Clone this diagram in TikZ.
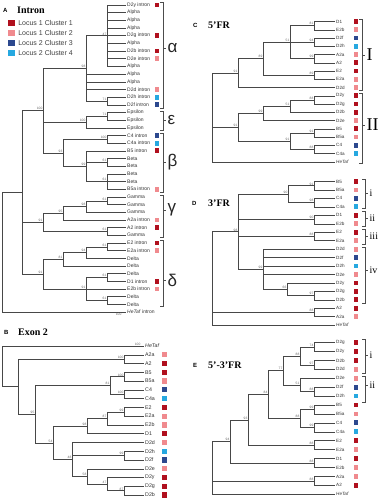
\documentclass[tikz,border=0pt]{standalone}
\usepackage{fontspec}
\setmainfont{Liberation Sans}
\newfontfamily\tms{Liberation Serif}
\usetikzlibrary{positioning}
\definecolor{cr}{RGB}{176,16,30}
\definecolor{cp}{RGB}{240,138,142}
\definecolor{cd}{RGB}{44,72,142}
\definecolor{cl}{RGB}{38,168,224}

\begin{document}
\begin{tikzpicture}[x=1pt, y=-1pt,
    every edge/.style={draw=black!72, line width=.5pt, to path={|- (\tikztotarget)}},
    lab/.style={anchor=west, inner sep=1pt, font=\fontsize{5}{5}\selectfont, text=black!80},
    labb/.style={lab, font=\fontsize{5.3}{5.3}\selectfont},
    labs/.style={lab, font=\fontsize{4.6}{5}\selectfont},
    sq/.style={fill=#1, minimum size=4.8pt, inner sep=0pt},
    key/.style={fill=#1, minimum size=6.8pt, inner sep=0pt},
    keytxt/.style={anchor=west, font=\fontsize{7}{8}\selectfont, text=black!75, inner sep=0pt},
    bs/.style={anchor=south east, inner sep=.4pt, font=\fontsize{3.3}{3.3}\selectfont, text=black!60},
    bk/.style={draw=black!70, line width=.5pt},
    grk/.style={anchor=west, inner sep=1.5pt, font=\fontsize{17}{17}\selectfont, text=black!85},
    romb/.style={anchor=west, inner sep=1.5pt, font=\tms\fontsize{18}{18}\selectfont},
    rom/.style={anchor=west, inner sep=1.5pt, font=\tms\fontsize{10}{10}\selectfont},
    ttl/.style={anchor=west, inner sep=0pt, font=\tms\bfseries\fontsize{10}{10}\selectfont},
    pl/.style={anchor=west, inner sep=0pt, font=\bfseries\fontsize{6}{6}\selectfont}]

\path[use as bounding box, fill=white] (0,0) rectangle (381,499);

% ---------------- A : intron ----------------
\node[pl] (pA) at (3,10) {A};
\node[ttl] (tA) at (17,10) {Intron};
\node[key=cr] (k1) at (11.5,23) {};
\node[key=cp] (k2) at (11.5,33) {};
\node[key=cd] (k3) at (11.5,43) {};
\node[key=cl] (k4) at (11.5,53) {};
\node[keytxt, right=3pt of k1] (l1) {Locus 1 Cluster 1};
\node[keytxt, right=3pt of k2] (l2) {Locus 1 Cluster 2};
\node[keytxt, right=3pt of k3] (l3) {Locus 2 Cluster 3};
\node[keytxt, right=3pt of k4] (l4) {Locus 2 Cluster 4};

\foreach \t/\c [count=\i] in {D2y intron/cr, Alpha/none, Alpha/none, Alpha/none,
    D2g intron/cr, Alpha/none, D2b intron/cr, D2e intron/cp, Alpha/none, Alpha/none,
    Alpha/none, D2d intron/cp, D2h intron/cl, D2f intron/cd, Epsilon/none, Epsilon/none,
    Epsilon/none, C4 intron/cd, C4a intron/cl, B5 intron/cr, Beta/none, Beta/none,
    Beta/none, Beta/none, B5a intron/cp, Gamma/none, Gamma/none, Gamma/none,
    A2a intron/cp, A2 intron/cr, Gamma/none, E2 intron/cr, E2a intron/cp, Delta/none,
    Delta/none, Delta/none, D1 intron/cr, E2b intron/cp, Delta/none, Delta/none,
    \textit{HeTaf} intron/none}{
  \pgfmathsetmacro\y{5+(\i-1)*7.675}
  \node[lab] (a\i) at (126,\y) {\t};
  \node[sq=\c] (qa\i) at (157,\y) {};
}

\coordinate (aal1) at (107,35.7);
\coordinate (aal2) at (107,101);
\coordinate (aal) at (86,68.3);
\coordinate (aep1) at (107,116.3);
\coordinate (aep) at (86,122.1);
\coordinate (abe1) at (107,139.3);
\coordinate (abe2) at (107,162.4);
\coordinate (abe3) at (107,181.6);
\coordinate (abe4) at (86,166.2);
\coordinate (abe) at (63,152.8);
\coordinate (aabe) at (43,110.5);
\coordinate (aga1) at (107,200.8);
\coordinate (aga3) at (86,206.5);
\coordinate (aga2) at (63,213.2);
\coordinate (aga4) at (107,231.5);
\coordinate (aga) at (43,222.3);
\coordinate (ade1) at (107,246.8);
\coordinate (ade3) at (86,252.6);
\coordinate (ade2) at (63,259.3);
\coordinate (ade4) at (107,277.6);
\coordinate (ade5) at (107,300.6);
\coordinate (ade6) at (86,289.1);
\coordinate (ade) at (43,274.2);
\coordinate (ain) at (22,192.4);
\coordinate (art) at (2,252.2);

\foreach \i in {1,...,9} \path (aal1) edge (a\i);
\path (aal2) edge (a13) edge (a14);
\path (aal) edge (aal1) edge (a10) edge (a11) edge (a12) edge (aal2);
\path (aep1) edge (a15) edge (a16);
\path (aep) edge (aep1) edge (a17);
\path (abe1) edge (a18) edge (a19);
\path (abe2) edge (a21) edge (a22);
\path (abe3) edge (a23) edge (a24) edge (a25);
\path (abe4) edge (a20) edge (abe2) edge (abe3);
\path (abe) edge (abe1) edge (abe4);
\path (aabe) edge (aal) edge (aep) edge (abe);
\path (aga1) edge (a26) edge (a27);
\path (aga3) edge (aga1) edge (a28);
\path (aga2) edge (aga3) edge (a29);
\path (aga4) edge (a30) edge (a31);
\path (aga) edge (aga2) edge (aga4);
\path (ade1) edge (a32) edge (a33);
\path (ade3) edge (ade1) edge (a34);
\path (ade2) edge (ade3) edge (a35);
\path (ade4) edge (a36) edge (a37);
\path (ade5) edge (a39) edge (a40);
\path (ade6) edge (ade4) edge (a38) edge (ade5);
\path (ade) edge (ade2) edge (ade6);
\path (ain) edge (aabe) edge (aga) edge (ade);
\path (art) edge (ain) edge (a41);

\foreach \n/\v in {aal1/47, aal/98, aal2/71, aep1/71, aep/100, aabe/100, abe1/100,
    abe/93, abe4/99, abe2/61, abe3/61, aga1/61, aga3/98, aga2/95, aga4/61, aga/91,
    ade1/61, ade3/94, ade2/81, ade4/61, ade6/91, ade5/61, ade/91}
  \node[bs] (s\n) at (\n) {\v};
\node[bs, anchor=north east] (sa41) at (122,312.5) {100};

% brackets of the families
\draw[bk] (160,2.5) -- (163,2.5) -- (163,108) -- (160,108);
\draw[bk] (160,111) -- (163,111) -- (163,130) -- (160,130);
\draw[bk] (160,133) -- (163,133) -- (163,192) -- (160,192);
\draw[bk] (160,195) -- (163,195) -- (163,237) -- (160,237);
\draw[bk] (160,240) -- (163,240) -- (163,306) -- (160,306);
\node[grk] (gal) at (166,48) {α};
\node[grk] (gep) at (166,120) {ε};
\node[grk] (gbe) at (166,162) {β};
\node[grk] (gga) at (166,210) {γ};
\node[grk] (gde) at (166,280) {δ};
\foreach \g in {gal,gep,gbe,gga,gde} \draw[bk] (163,0 |- \g) -- (\g.west);

% ---------------- B : exon 2 ----------------
\node[pl] (pB) at (4,332) {B};
\node[ttl] (tB) at (18,332) {Exon 2};

\foreach \t/\c [count=\i] in {\textit{HeTaf}/none, A2a/cp, A2/cr, B5/cr, B5a/cp,
    C4/cd, C4a/cl, E2/cr, E2a/cp, E2b/cp, D1/cr, D2d/cp, D2h/cl, D2f/cd, D2e/cp,
    D2y/cr, D2g/cr, D2b/cr}{
  \pgfmathsetmacro\y{346+(\i-1)*8.77}
  \node[labb] (b\i) at (144,\y) {\t};
  \node[sq=\c, minimum size=5.2pt] (qb\i) at (164.5,\y) {};
}

\coordinate (ba2) at (124,359.2);
\coordinate (bb5) at (124,376.7);
\coordinate (bc4) at (124,394.3);
\coordinate (bbc) at (110,385.5);
\coordinate (be2) at (124,411.8);
\coordinate (be3) at (107,418.4);
\coordinate (be) at (87,426.1);
\coordinate (bd1) at (124,455.6);
\coordinate (bd2) at (124,490.7);
\coordinate (bd3) at (107,484.2);
\coordinate (bd4) at (87,476.5);
\coordinate (bd) at (72,459.5);
\coordinate (bed) at (53,442.8);
\coordinate (bx) at (35,414.2);
\coordinate (bin) at (18,386.7);
\coordinate (brt) at (2,366.4);

\path (ba2) edge (b2) edge (b3);
\path (bb5) edge (b4) edge (b5);
\path (bc4) edge (b6) edge (b7);
\path (bbc) edge (bb5) edge (bc4);
\path (be2) edge (b8) edge (b9);
\path (be3) edge (be2) edge (b10);
\path (be) edge (be3) edge (b11);
\path (bd1) edge (b13) edge (b14);
\path (bd2) edge (b17) edge (b18);
\path (bd3) edge (b16) edge (bd2);
\path (bd4) edge (b15) edge (bd3);
\path (bd) edge (b12) edge (bd1) edge (bd4);
\path (bed) edge (be) edge (bd);
\path (bx) edge (bbc) edge (bed);
\path (bin) edge (ba2) edge (bx);
\path (brt) edge (bin) edge (b1);

\foreach \n/\v in {ba2/100, bb5/100, bc4/100, bbc/81, be2/99, be3/87, be/98, bd1/99,
    bd2/87, bd3/47, bd4/58, bd/48, bed/54, bx/95}
  \node[bs] (s\n) at (\n) {\v};
\node[bs] (sb1) at (141,346) {100};

% ---------------- C : 5'FR ----------------
\node[pl] (pC) at (193,25) {C};
\node[ttl] (tC) at (208,25) {5’FR};

\foreach \t/\c [count=\i] in {D1/cr, E2b/cp, D2f/cd, D2h/cl, A2a/cp, A2/cr, E2/cr,
    E2a/cp, D2d/cp, D2y/cr, D2g/cr, D2b/cr, D2e/cp, B5/cr, B5a/cp, C4/cd, C4a/cl,
    \textit{HeTaf}/none}{
  \pgfmathsetmacro\y{21.5+(\i-1)*8.25}
  \node[labs] (c\i) at (335,\y) {\t};
  \node[sq=\c] (qc\i) at (356,\y) {};
}

\coordinate (cA) at (314,25.6);
\coordinate (cB) at (314,42.1);
\coordinate (cC) at (314,58.6);
\coordinate (cD) at (290,42.1);
\coordinate (cE) at (314,75.1);
\coordinate (cF) at (263,58.6);
\coordinate (cG) at (238,73.1);
\coordinate (cH) at (314,99.9);
\coordinate (cI) at (290,106.1);
\coordinate (cJ) at (263,113.3);
\coordinate (cK) at (314,132.9);
\coordinate (cL) at (314,149.4);
\coordinate (cM) at (290,141.1);
\coordinate (cN) at (238,127.2);
\coordinate (cR) at (212,117.4);

\path (cA) edge (c1) edge (c2);
\path (cB) edge (c3) edge (c4);
\path (cC) edge (c5) edge (c6);
\path (cD) edge (cA) edge (cB) edge (cC);
\path (cE) edge (c7) edge (c8);
\path (cF) edge (cD) edge (cE);
\path (cG) edge (cF) edge (c9);
\path (cH) edge (c10) edge (c11);
\path (cI) edge (cH) edge (c12);
\path (cJ) edge (cI) edge (c13);
\path (cK) edge (c14) edge (c15);
\path (cL) edge (c16) edge (c17);
\path (cM) edge (cK) edge (cL);
\path (cN) edge (cJ) edge (cM);
\path (cR) edge (cG) edge (cN) edge (c18);

\foreach \n/\v in {cA/81, cB/94, cC/99, cD/51, cE/89, cF/89, cG/91, cH/88, cI/51,
    cJ/99, cK/91, cL/88, cM/91, cN/91}
  \node[bs] (s\n) at (\n) {\v};

\draw[bk] (359,19) -- (362,19) -- (362,90) -- (359,90);
\draw[bk] (359,93) -- (362,93) -- (362,163) -- (359,163);
\node[romb] (rI) at (365,55) {I};
\node[romb] (rII) at (365,125) {II};
\foreach \g in {rI,rII} \draw[bk] (362,0 |- \g) -- (\g.west);

% ---------------- D : 3'FR ----------------
\node[pl] (pD) at (192,203) {D};
\node[ttl] (tD) at (208,203) {3’FR};

\foreach \t/\c [count=\i] in {B5/cr, B5a/cp, C4/cd, C4a/cl, D1/cr, E2b/cp, E2/cr,
    E2a/cp, D2d/cp, D2f/cd, D2h/cl, D2e/cp, D2y/cr, D2g/cr, D2b/cr, A2/cr, A2a/cp,
    \textit{HeTaf}/none}{
  \pgfmathsetmacro\y{181.5+(\i-1)*8.45}
  \node[labs] (d\i) at (335,\y) {\t};
  \node[sq=\c] (qd\i) at (356,\y) {};
}

\coordinate (dA) at (314,185.7);
\coordinate (dB) at (314,202.6);
\coordinate (dC) at (288,194.2);
\coordinate (dD) at (314,219.5);
\coordinate (dE) at (314,236.4);
\coordinate (dF) at (314,295.6);
\coordinate (dG) at (287,289.3);
\coordinate (dH) at (263,269.2);
\coordinate (dI) at (238,231.7);
\coordinate (dJ) at (314,312.5);
\coordinate (dR) at (212,278.4);

\path (dA) edge (d1) edge (d2);
\path (dB) edge (d3) edge (d4);
\path (dC) edge (dA) edge (dB);
\path (dD) edge (d5) edge (d6);
\path (dE) edge (d7) edge (d8);
\path (dF) edge (d14) edge (d15);
\path (dG) edge (d13) edge (dF);
\path (dH) edge (d9) edge (d10) edge (d11) edge (d12) edge (dG);
\path (dI) edge (dC) edge (dD) edge (dE) edge (dH);
\path (dJ) edge (d16) edge (d17);
\path (dR) edge (dI) edge (dJ) edge (d18);

\foreach \n/\v in {dA/91, dB/98, dC/90, dD/90, dE/88, dF/97, dG/66, dH/99, dI/98, dJ/88}
  \node[bs] (s\n) at (\n) {\v};

\draw[bk] (362,179) -- (365,179) -- (365,208) -- (362,208);
\draw[bk] (362,211) -- (365,211) -- (365,226) -- (362,226);
\draw[bk] (362,229) -- (365,229) -- (365,244) -- (362,244);
\draw[bk] (362,247) -- (365,247) -- (365,303) -- (362,303);
\node[rom] (ri) at (368,193) {i};
\node[rom] (rii) at (368,218) {ii};
\node[rom] (riii) at (368,236) {iii};
\node[rom] (riv) at (368,270) {iv};
\foreach \g in {ri,rii,riii,riv} \draw[bk] (365,0 |- \g) -- (\g.west);

% ---------------- E : 5'-3'FR ----------------
\node[pl] (pE) at (193,365) {E};
\node[ttl] (tE) at (208,365) {5’-3’FR};

\foreach \t/\c [count=\i] in {D2g/cr, D2y/cr, D2b/cr, D2d/cp, D2e/cp, D2f/cd, D2h/cl,
    B5/cr, B5a/cp, C4/cd, C4a/cl, E2/cr, E2a/cp, D1/cr, E2b/cp, A2a/cp, A2/cr,
    \textit{HeTaf}/none}{
  \pgfmathsetmacro\y{342.5+(\i-1)*8.93}
  \node[labs] (e\i) at (335,\y) {\t};
  \node[sq=\c] (qe\i) at (356,\y) {};
}

\coordinate (eA) at (314,347);
\coordinate (eB) at (314,364.8);
\coordinate (eC) at (300,355.9);
\coordinate (eD) at (314,391.6);
\coordinate (eE) at (300,384.9);
\coordinate (eF) at (283,370.4);
\coordinate (eG) at (314,409.5);
\coordinate (eH) at (314,427.3);
\coordinate (eI) at (300,418.4);
\coordinate (eJ) at (268,394.4);
\coordinate (eK) at (314,445.2);
\coordinate (eL) at (248,419.8);
\coordinate (eM) at (314,463.1);
\coordinate (eN) at (230,441.4);
\coordinate (eO) at (314,480.9);
\coordinate (eR) at (212,467.9);

\path (eA) edge (e1) edge (e2);
\path (eB) edge (e3) edge (e4);
\path (eC) edge (eA) edge (eB);
\path (eD) edge (e6) edge (e7);
\path (eE) edge (e5) edge (eD);
\path (eF) edge (eC) edge (eE);
\path (eG) edge (e8) edge (e9);
\path (eH) edge (e10) edge (e11);
\path (eI) edge (eG) edge (eH);
\path (eJ) edge (eF) edge (eI);
\path (eK) edge (e12) edge (e13);
\path (eL) edge (eJ) edge (eK);
\path (eM) edge (e14) edge (e15);
\path (eN) edge (eL) edge (eM);
\path (eO) edge (e16) edge (e17);
\path (eR) edge (eN) edge (eO) edge (e18);

\foreach \n/\v in {eA/74, eB/97, eC/88, eD/88, eE/51, eF/77, eG/99, eH/99, eI/88,
    eJ/84, eK/88, eL/93, eM/88, eN/94, eO/88}
  \node[bs] (s\n) at (\n) {\v};

\draw[bk] (362,339) -- (365,339) -- (365,373) -- (362,373);
\draw[bk] (362,376) -- (365,376) -- (365,402) -- (362,402);
\node[rom] (ei) at (368,355) {i};
\node[rom] (eii) at (368,385) {ii};
\foreach \g in {ei,eii} \draw[bk] (365,0 |- \g) -- (\g.west);
\end{tikzpicture}
\end{document}
